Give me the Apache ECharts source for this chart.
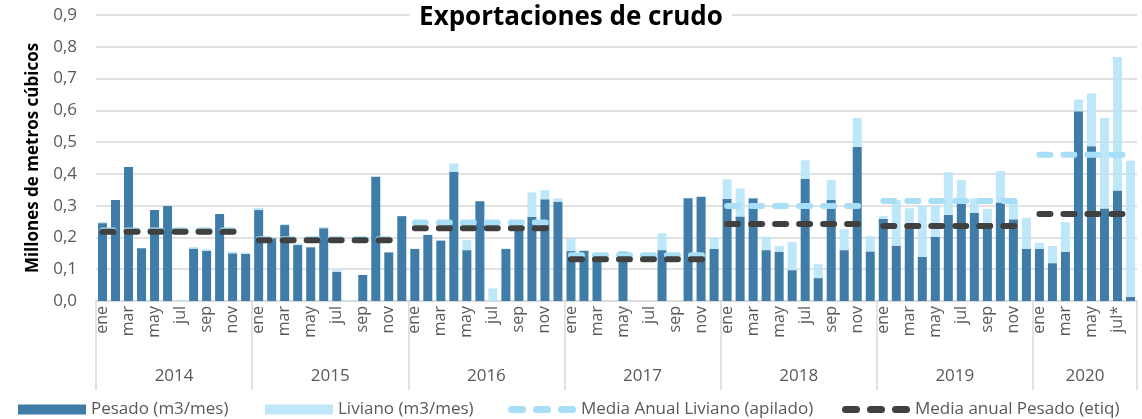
<!DOCTYPE html>
<html>
<head>
<meta charset="utf-8">
<script src="https://cdn.jsdelivr.net/npm/echarts@6/dist/echarts.min.js"></script>
<style>
  html, body { margin: 0; padding: 0; background: #fff; }
  #chart { width: 1142px; height: 419px; }
</style>
</head>
<body>
<div id="chart"></div>
<script>
const years = ['2014', '2015', '2016', '2017', '2018', '2019', '2020'];
const monthNames = ['ene', 'feb', 'mar', 'abr', 'may', 'jun', 'jul', 'ago', 'sep', 'oct', 'nov', 'dic'];
const months2020 = ['ene', 'feb', 'mar', 'abr', 'may', 'jun', 'jul*', 'ago'];

// millones de m3 por mes
const pesado = [
  0.245, 0.318, 0.422, 0.166, 0.286, 0.299, 0, 0.165, 0.158, 0.274, 0.150, 0.148,
  0.286, 0.197, 0.239, 0.176, 0.169, 0.229, 0.092, 0, 0.082, 0.391, 0.153, 0.267,
  0.164, 0.208, 0.190, 0.407, 0.160, 0.314, 0, 0.164, 0.225, 0.265, 0.320, 0.312,
  0.157, 0.158, 0.130, 0, 0.155, 0, 0, 0.160, 0, 0.323, 0.328, 0.164,
  0.321, 0.266, 0.323, 0.160, 0.155, 0.097, 0.384, 0.072, 0.318, 0.160, 0.485, 0.156,
  0.258, 0.174, 0.240, 0.139, 0.202, 0.271, 0.307, 0.277, 0.245, 0.310, 0.257, 0.164,
  0.164, 0.119, 0.155, 0.597, 0.487, 0.291, 0.348, 0.013
];
const liviano = [
  0.003, 0, 0, 0, 0, 0, 0.004, 0.005, 0.005, 0, 0.005, 0.004,
  0.007, 0, 0.003, 0.005, 0, 0.004, 0.005, 0.003, 0, 0, 0, 0,
  0, 0, 0, 0.026, 0.032, 0, 0.040, 0, 0.010, 0.077, 0.029, 0.011,
  0.040, 0, 0, 0, 0.003, 0, 0, 0.053, 0, 0, 0, 0.036,
  0.062, 0.088, 0.002, 0.042, 0.018, 0.088, 0.059, 0.044, 0.063, 0.066, 0.091, 0.048,
  0.009, 0.144, 0.052, 0.160, 0.098, 0.134, 0.074, 0.046, 0.045, 0.099, 0.061, 0.098,
  0.019, 0.054, 0.093, 0.037, 0.166, 0.285, 0.420, 0.428
];
const mediaPesado = [0.218, 0.191, 0.229, 0.131, 0.242, 0.236, 0.274];
const mediaLiviano = [0.222, 0.194, 0.247, 0.144, 0.299, 0.315, 0.460];

const FONT = 'Open Sans';
const GREY = '#595959';
const SEP = '#d9d9d9';

// categorias unicas "año-mes"
const categories = [];
const yearStart = [];
years.forEach(y => {
  yearStart.push(categories.length);
  const ms = y === '2020' ? months2020 : monthNames;
  ms.forEach(m => categories.push(y + '-' + m));
});
const yearCount = years.map((y, i) => (i < years.length - 1 ? yearStart[i + 1] : categories.length) - yearStart[i]);

// eje de limites entre meses (n+1 puntos): años en el centro, separadores en los bordes
const boundaries = new Array(categories.length + 1).fill('');
years.forEach((y, i) => { boundaries[yearStart[i] + yearCount[i] / 2] = y; });
const separatorIdx = yearStart.concat([categories.length]);

function mediaSeries(name, values, color, z) {
  return years.map((y, i) => ({
    name,
    type: 'line',
    z,
    symbol: 'none',
    silent: true,
    data: categories.map((c, k) =>
      k >= yearStart[i] && k < yearStart[i] + yearCount[i] ? values[i] : null),
    lineStyle: { color, width: 6, type: [11, 13], cap: 'round' },
    itemStyle: { color }
  }));
}

const dashIcon = 'path://M3.5,0H14.5A3.5,3.5 0 0 1 14.5,7H3.5A3.5,3.5 0 0 1 3.5,0Z' +
  'M28.5,0H39.5A3.5,3.5 0 0 1 39.5,7H28.5A3.5,3.5 0 0 1 28.5,0Z' +
  'M53.5,0H64.5A3.5,3.5 0 0 1 64.5,7H53.5A3.5,3.5 0 0 1 53.5,0Z';

const chart = echarts.init(document.getElementById('chart'));

const legendBase = {
  top: 396,
  itemWidth: 68,
  itemHeight: 10,
  textStyle: { color: GREY, fontSize: 17, fontFamily: FONT }
};

chart.setOption({
  animation: false,
  backgroundColor: '#fff',
  title: {
    text: 'Exportaciones de crudo',
    left: 'center',
    top: 2,
    padding: [3, 9],
    backgroundColor: '#fff',
    textStyle: { color: '#000', fontSize: 26, fontWeight: 'bold', fontFamily: FONT }
  },
  legend: [
    { ...legendBase, left: 13, data: [{ name: 'Pesado (m3/mes)', icon: 'rect' }] },
    { ...legendBase, left: 260, data: [{ name: 'Liviano (m3/mes)', icon: 'rect' }] },
    { ...legendBase, left: 503, itemHeight: 7, data: [{ name: 'Media Anual Liviano (apilado)', icon: dashIcon }] },
    { ...legendBase, left: 837, itemHeight: 7, data: [{ name: 'Media anual Pesado (etiq)', icon: dashIcon }] }
  ],
  grid: { left: 96, right: 5, top: 15, bottom: 118 },
  xAxis: [
    {
      type: 'category',
      data: categories,
      axisLine: { lineStyle: { color: SEP, width: 1.5 } },
      axisTick: { show: false },
      axisLabel: {
        interval: 1,
        rotate: 90,
        margin: 5,
        color: GREY,
        fontSize: 16,
        fontFamily: FONT,
        formatter: v => v.split('-')[1]
      }
    },
    {
      type: 'category',
      position: 'bottom',
      boundaryGap: false,
      data: boundaries,
      axisLine: { show: false },
      axisTick: {
        show: true,
        interval: (i) => separatorIdx.includes(i),
        length: 89,
        lineStyle: { color: SEP, width: 1.5 }
      },
      axisLabel: {
        interval: (i, v) => v !== '',
        margin: 67,
        color: GREY,
        fontSize: 17,
        fontFamily: FONT
      }
    }
  ],
  yAxis: {
    type: 'value',
    min: 0,
    max: 0.9,
    interval: 0.1,
    name: 'Millones de metros cúbicos',
    nameLocation: 'middle',
    nameGap: 54,
    nameTextStyle: { color: '#000', fontSize: 17, fontWeight: 'bold', fontFamily: FONT },
    axisLine: { show: false },
    axisTick: { show: false },
    axisLabel: {
      margin: 19,
      color: GREY,
      fontSize: 17,
      fontFamily: FONT,
      formatter: v => v.toFixed(1).replace('.', ',')
    },
    splitLine: { lineStyle: { color: SEP, width: 1.5 } }
  },
  series: [
    {
      name: 'Pesado (m3/mes)',
      type: 'bar',
      stack: 'total',
      barWidth: 9,
      data: pesado,
      itemStyle: { color: '#3f7ca7' }
    },
    {
      name: 'Liviano (m3/mes)',
      type: 'bar',
      stack: 'total',
      barWidth: 9,
      data: liviano,
      itemStyle: { color: 'rgba(184,229,250,0.92)' }
    },
    ...mediaSeries('Media Anual Liviano (apilado)', mediaLiviano, '#a8def6', 5),
    ...mediaSeries('Media anual Pesado (etiq)', mediaPesado, '#404040', 6)
  ]
});
</script>
</body>
</html>
